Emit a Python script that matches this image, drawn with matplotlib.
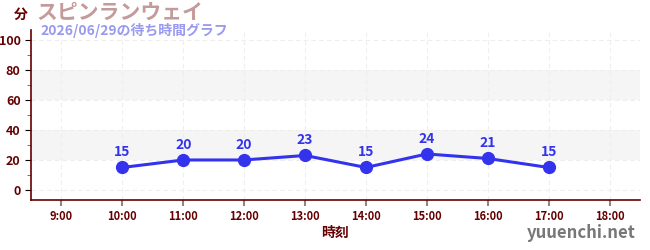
import matplotlib
matplotlib.use("Agg")
import matplotlib.pyplot as plt
from matplotlib.ticker import MultipleLocator

plt.rcParams['font.family'] = ['Noto Sans CJK JP', 'DejaVu Sans']

hours = [10, 11, 12, 13, 14, 15, 16, 17]
waits = [15, 20, 20, 23, 15, 24, 21, 15]
tick_hours = [9, 10, 11, 12, 13, 14, 15, 16, 17, 18]
tick_labels = [f"{h}:00" for h in tick_hours]
y_ticks = [0, 20, 40, 60, 80, 100]

AXIS_COLOR = "#660000"
LINE_COLOR = "#3333ee"

fig = plt.figure(figsize=(6.5, 2.5), dpi=100)
ax = fig.add_axes([31 / 650, 50 / 250, 609 / 650, 170 / 250])

ax.set_xlim(8.5, 18.5)
ax.set_ylim(-6.7, 106.7)

# shaded bands
for lo, hi in [(20, 40), (60, 80)]:
    ax.axhspan(lo, hi, color="#f5f5f5", zorder=0, lw=0)

ax.grid(True, color="#eeeeee", linestyle=(0, (4, 3)), linewidth=0.8, zorder=0)

ax.plot(hours, waits, color=LINE_COLOR, lw=2.2, marker="o", ms=8.5, zorder=3)
for h, w in zip(hours, waits):
    ax.annotate(str(w), (h, w), xytext=(0, 6), textcoords="offset points",
                ha="center", va="bottom", color=LINE_COLOR, fontsize=10,
                fontweight="bold", zorder=4)

ax.set_xticks(tick_hours)
ax.set_xticklabels(tick_labels)
ax.set_yticks(y_ticks)
ax.yaxis.set_minor_locator(MultipleLocator(10))

for s in ["top", "right"]:
    ax.spines[s].set_visible(False)
for s in ["left", "bottom"]:
    ax.spines[s].set_color(AXIS_COLOR)
    ax.spines[s].set_linewidth(1.2)

ax.tick_params(axis="x", colors="#888888", labelcolor=AXIS_COLOR, labelsize=8, length=4, width=1.5)
ax.tick_params(axis="y", which="major", colors="#000000", labelcolor=AXIS_COLOR, labelsize=9, length=4)
ax.tick_params(axis="y", which="minor", colors="#dd2222", length=3)
for lbl in ax.get_xticklabels() + ax.get_yticklabels():
    lbl.set_fontweight("bold")

ax.set_xlabel("時刻", color=AXIS_COLOR, fontsize=10, fontweight="bold", labelpad=2)

fig.text(14 / 650, 1 - 15 / 250, "分", color=AXIS_COLOR, fontsize=10, fontweight="bold",
         ha="left", va="center")
fig.text(36 / 650, 1 - 12 / 250, "スピンランウェイ", color="#c49a9a", fontsize=15,
         fontweight="bold", ha="left", va="center")
fig.text(40 / 650, 1 - 31 / 250, "2026/06/29の待ち時間グラフ", color="#9999ee", fontsize=10,
         fontweight="bold", ha="left", va="center")
fig.text(636 / 650, 1 - 233 / 250, "yuuenchi.net", color="#777777", fontsize=12,
         fontweight="bold", ha="right", va="center")

fig.savefig("out.png", dpi=100)
